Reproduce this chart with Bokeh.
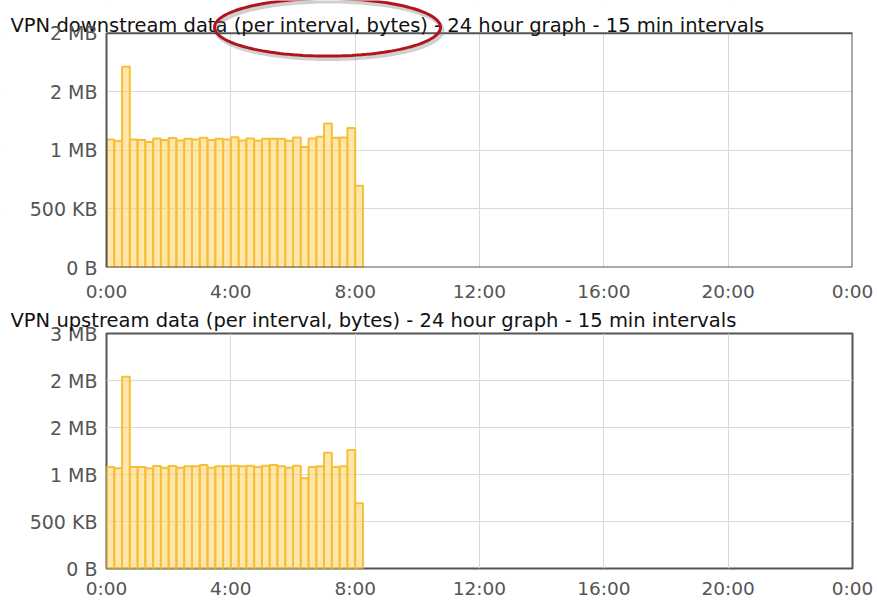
import numpy as np
from bokeh.plotting import figure
from bokeh.layouts import column
from bokeh.models import (Range1d, FixedTicker, PolyAnnotation, BoxAnnotation, Label,
                          ColumnDataSource, Grid)
from bokeh.core.properties import value
from bokeh.embed import file_html
from bokeh.resources import INLINE

# ---- data (bytes per 15-min interval) ----
x_tick_hours = [0, 4, 8, 12, 16, 20, 24]
x_tick_labels = ["0:00", "4:00", "8:00", "12:00", "16:00", "20:00", "0:00"]

down_bytes = [1093000, 1079000, 1715000, 1093000, 1088000, 1071000, 1102000, 1088000,
              1105000, 1085000, 1099000, 1093000, 1107000, 1088000, 1099000, 1093000,
              1113000, 1085000, 1102000, 1082000, 1099000, 1099000, 1099000, 1082000,
              1110000, 1028000, 1102000, 1116000, 1229000, 1107000, 1110000, 1192000,
              698000]
up_bytes = [1080000, 1066000, 2041000, 1080000, 1080000, 1066000, 1091000, 1073000,
            1091000, 1073000, 1087000, 1087000, 1101000, 1073000, 1087000, 1087000,
            1094000, 1087000, 1094000, 1080000, 1094000, 1101000, 1087000, 1073000,
            1094000, 961000, 1080000, 1087000, 1231000, 1080000, 1087000, 1260000,
            693000]

down_yticks = [0, 500000, 1000000, 1500000, 2000000]
down_ylabels = ["0 B", "500 KB", "1 MB", "2 MB", "2 MB"]
up_yticks = [0, 500000, 1000000, 1500000, 2000000, 2500000]
up_ylabels = ["0 B", "500 KB", "1 MB", "2 MB", "2 MB", "3 MB"]

down_title = "VPN downstream data (per interval, bytes) - 24 hour graph - 15 min intervals"
up_title = "VPN upstream data (per interval, bytes) - 24 hour graph - 15 min intervals"

interval_hours = 0.25
FONT = "DejaVu Sans"
TITLE_SIZE = "19.5px"
XLAB_SIZE = "18.5px"
YLAB_SIZE = "19px"
LAB_COLOR = "#555555"
BAR_FILL = "#FFCD56"
BAR_LINE = "#F6BF3A"
FRAME = "#555555"
GRID = "#d9d9d9"
W = 875
LEFT, RIGHT = 106, 23            # plot-box margins in px
PLOT_W = W - LEFT - RIGHT
PX_PER_H = PLOT_W / 24


def style_xaxis(p, standoff):
    ax = p.xaxis[0]
    ax.ticker = FixedTicker(ticks=x_tick_hours)
    ax.major_label_overrides = {h: l for h, l in zip(x_tick_hours, x_tick_labels)}
    ax.axis_line_color = None
    ax.major_tick_line_color = None
    ax.minor_tick_line_color = None
    ax.major_tick_out = 0
    ax.major_tick_in = 0
    ax.major_label_text_font = FONT
    ax.major_label_text_font_size = XLAB_SIZE
    ax.major_label_text_color = LAB_COLOR
    ax.major_label_standoff = standoff
    p.xgrid.grid_line_color = GRID
    p.background_fill_color = "white"
    p.border_fill_color = "white"
    p.frame_align = False


def add_bars(p, values):
    n = len(values)
    src = ColumnDataSource(dict(x=[(i + 0.5) * interval_hours for i in range(n)], top=values))
    p.vbar(x="x", top="top", width=interval_hours, bottom=0, source=src,
           fill_color=BAR_FILL, fill_alpha=0.5, line_color=BAR_LINE, line_width=2)


# ---------- top chart: the frame covers the whole canvas above the x axis so that the
# title and the red highlight ellipse can be drawn across it
top_ymax = down_yticks[-1]
H1, BOTTOM1, TOP1 = 304, 35, 33
frame_h = H1 - BOTTOM1
y_end = top_ymax * frame_h / (frame_h - TOP1)
px_per_val = frame_h / y_end
x_start = -LEFT / PX_PER_H
p1 = figure(width=W, height=H1, x_range=Range1d(x_start, 24), y_range=Range1d(0, y_end),
            output_backend="svg", toolbar_location=None, title=None, y_axis_location=None,
            min_border_left=0, min_border_right=RIGHT, min_border_top=0,
            min_border_bottom=BOTTOM1)
if len(p1.ygrid) == 0:
    p1.add_layout(Grid(dimension=1, ticker=FixedTicker(ticks=down_yticks)))
p1.ygrid.ticker = FixedTicker(ticks=down_yticks)
p1.ygrid.grid_line_color = GRID
add_bars(p1, down_bytes)
style_xaxis(p1, 13)
p1.outline_line_color = None
# white strips left of / above the plot box (hide grid lines there)
p1.add_layout(BoxAnnotation(right=0, fill_color="white", fill_alpha=1,
                            line_color=None, level="glyph"))
p1.add_layout(BoxAnnotation(bottom=top_ymax, fill_color="white", fill_alpha=1,
                            line_color=None, level="glyph"))
# plot box
p1.add_layout(BoxAnnotation(left=0, right=24, bottom=0, top=top_ymax, fill_alpha=0,
                            line_color=FRAME, line_alpha=1, line_width=2))
# y tick labels
ylab = p1.text(x=[0] * len(down_yticks), y=down_yticks, text=down_ylabels,
               x_offset=-9, text_align="right", text_baseline="middle",
               text_font=value(FONT), text_font_size=YLAB_SIZE, text_color=LAB_COLOR)
ylab.level = "overlay"
# title
p1.add_layout(Label(x=x_start + 10 / PX_PER_H, y=y_end - 25 / px_per_val, text=down_title,
                    text_font=FONT, text_font_size=TITLE_SIZE, text_color="#111111",
                    text_baseline="alphabetic"))
# red highlight ellipse around "(per interval, bytes)"
cx, cy = 221 / PX_PER_H, y_end - 27 / px_per_val
rx, ry = 113 / PX_PER_H, 29 / px_per_val
t = np.linspace(0, 2 * np.pi, 145)
ex = list(cx + rx * np.cos(t))
ey = list(cy + ry * np.sin(t))
p1.add_layout(PolyAnnotation(xs=[v + 2 / PX_PER_H for v in ex], ys=[v - 3 / px_per_val for v in ey],
                             fill_alpha=0, line_color="#777777", line_alpha=0.35, line_width=4))
p1.add_layout(PolyAnnotation(xs=ex, ys=ey, fill_alpha=0, line_color="#B0141C",
                             line_alpha=1, line_width=3))

# ---------- bottom chart
p2 = figure(width=W, height=297, x_range=Range1d(0, 24), y_range=Range1d(0, up_yticks[-1]),
            output_backend="svg", toolbar_location=None,
            min_border_left=LEFT, min_border_right=RIGHT, min_border_top=29, min_border_bottom=33)
p2.title.text = up_title
p2.title.text_font = FONT
p2.title.text_font_size = TITLE_SIZE
p2.title.text_font_style = "normal"
p2.title.text_color = "#111111"
p2.title.align = "left"
p2.title.offset = 10 - LEFT
p2.title.standoff = 3
add_bars(p2, up_bytes)
style_xaxis(p2, 9)
ay = p2.yaxis[0]
ay.ticker = FixedTicker(ticks=up_yticks)
ay.major_label_overrides = {t: l for t, l in zip(up_yticks, up_ylabels)}
ay.axis_line_color = None
ay.major_tick_line_color = None
ay.minor_tick_line_color = None
ay.major_tick_out = 0
ay.major_tick_in = 0
ay.major_label_text_font = FONT
ay.major_label_text_font_size = YLAB_SIZE
ay.major_label_text_color = LAB_COLOR
ay.major_label_standoff = 9
p2.ygrid.grid_line_color = GRID
p2.outline_line_color = FRAME
p2.outline_line_width = 2

layout = column(p1, p2, spacing=0)
open("out.html", "w").write(file_html(layout, INLINE))
